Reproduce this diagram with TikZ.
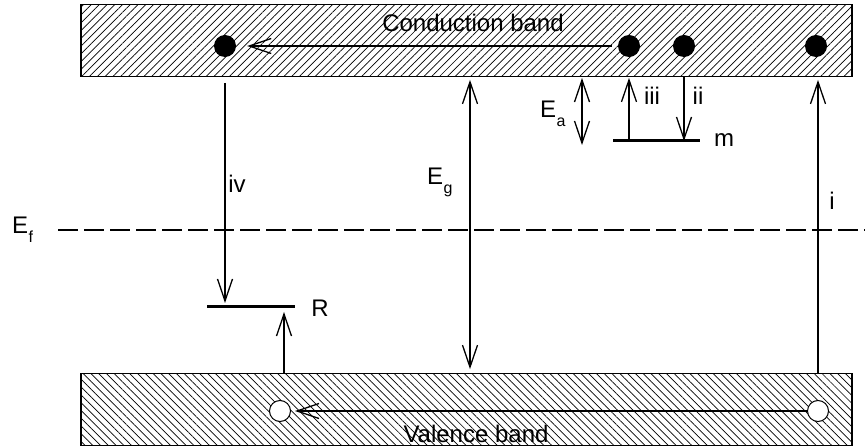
\documentclass[tikz,border=0pt]{standalone}
\usepackage{fontspec}
\setmainfont{Liberation Sans}
\usetikzlibrary{arrows.meta,patterns.meta}

\newcommand{\sublbl}[1]{\hspace{0.5pt}\raisebox{-9pt}{\fontsize{16}{16}\selectfont #1}}

\tikzset{
  barb/.tip={Straight Barb[length=22pt,width=15pt,line width=1.3pt]},
  band/.style={draw,line width=1.3pt,inner sep=0pt,minimum width=771pt,minimum height=72pt},
  level/.style={line width=3pt},
  tr/.style={line width=1.3pt,-barb},
  gap/.style={line width=1.3pt,barb-barb},
  fermi/.style={line width=1.3pt,dash pattern=on 20pt off 6pt},
  dot/.style={circle,fill,inner sep=0pt,minimum size=22pt},
  hole/.style={circle,draw,fill=white,line width=1pt,inner sep=0pt,minimum size=21pt},
  lbl/.style={inner sep=0pt,font=\fontsize{24}{28}\selectfont},
  bandtxt/.style={inner sep=0pt,font=\fontsize{24}{28}\selectfont}
}

\begin{document}
\begin{tikzpicture}[x=1pt,y=-1pt]
 \useasboundingbox (0,0) rectangle (865,446);
 \node[band,pattern={Lines[angle=45,distance=5.5pt,line width=0.7pt]}] (cb) at (466.5,40.5) {};
 \node[band,pattern={Lines[angle=-45,distance=5.5pt,line width=0.7pt]}] (vb) at (466.5,409.5) {};
 \node[bandtxt,anchor=base] (cbl) at (473,32) {Conduction band};
 \node[bandtxt,anchor=base] (vbl) at (476,442) {Valence band};

 \node[dot] (e1) at (225,46) {};
 \node[dot] (e2) at (629,46) {};
 \node[dot] (e3) at (684,46) {};
 \node[dot] (e4) at (816,46) {};
 \node[hole] (h1) at (280,411) {};
 \node[hole] (h2) at (818,411) {};
 \draw[tr,shorten <=6pt,shorten >=11pt] (e2) -- (e1);
 \draw[tr,shorten >=4pt] (h2) -- (h1);

 \coordinate (rl) at (207,307);
 \coordinate (rr) at (295,307);
 \coordinate (rup) at (284,307);
 \coordinate (ml) at (613,141);
 \coordinate (mr) at (700,141);
 \draw[level] (rl) -- (rr);
 \draw[level] (ml) -- (mr);

 \coordinate (ef1) at (58,230);
 \coordinate (ef2) at (865,230);
 \draw[fermi] (ef1) -- (ef2);

 \coordinate (gx) at (470,0);
 \coordinate (eatop) at (582,78);
 \coordinate (eabot) at (582,145);
 \draw[tr,shorten <=6pt,shorten >=4pt] (e1 |- cb.south) -- (e1 |- rl);
 \draw[tr,shorten >=5pt] (rup |- vb.north) -- (rup);
 \draw[gap,shorten <=3pt,shorten >=4pt] (gx |- cb.south) -- (gx |- vb.north);
 \draw[gap] (eatop) -- (eabot);
 \draw[tr,shorten >=1pt] (e2 |- ml) -- (e2 |- cb.south);
 \draw[tr] (e3 |- cb.south) -- (e3 |- ml);
 \draw[tr,shorten >=3pt] (h2 |- vb.north) -- (h2 |- cb.south);

 \node[lbl] (iv) at (237,184) {iv};
 \node[lbl] (iii) at (652,96) {iii};
 \node[lbl] (ii) at (698,96) {ii};
 \node[lbl] (i) at (832,201) {i};
 \node[lbl] (m) at (724,140) {m};
 \node[lbl] (R) at (320,308) {R};
 \node[lbl,anchor=base west] (Eg) at (427,185) {E\sublbl{g}};
 \node[lbl,anchor=base west] (Ea) at (540,118) {E\sublbl{a}};
 \node[lbl,anchor=base west] (Ef) at (12,234) {E\sublbl{f}};
\end{tikzpicture}
\end{document}
